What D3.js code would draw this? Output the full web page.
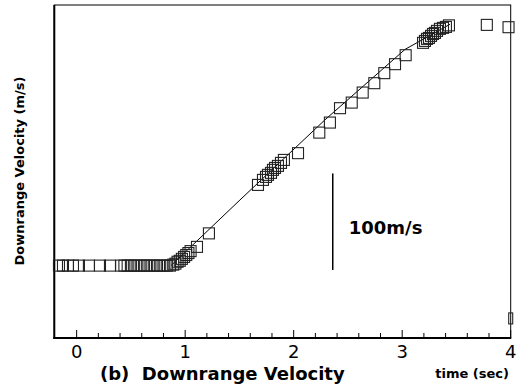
<!DOCTYPE html>
<html>
<head>
<meta charset="utf-8">
<script src="https://cdn.jsdelivr.net/npm/d3@7"></script>
<style>
  body { margin: 0; background: #fff; }
  svg { display: block; font-family: "DejaVu Sans", sans-serif; }
</style>
</head>
<body>
<svg id="chart" width="519" height="389"></svg>
<script>
// measured samples (time in s, downrange velocity in m/s, 0 = pre-launch level)
const timeSec = [
  -0.163, -0.126, -0.08, -0.034, 0.021, 0.113, 0.215, 0.307,
  0.41, 0.44, 0.47, 0.50, 0.53, 0.56, 0.59, 0.62, 0.65, 0.68, 0.71, 0.74, 0.77, 0.80, 0.83, 0.86,
  0.89, 0.91, 0.93, 0.95, 0.97, 0.99, 1.01, 1.03, 1.05, 1.109, 1.219,
  1.671, 1.717, 1.745, 1.763, 1.791, 1.809, 1.828, 1.855, 1.883, 1.91,
  2.04, 2.236, 2.334, 2.427, 2.535, 2.636, 2.743, 2.835, 2.934, 3.032,
  3.192, 3.21, 3.229, 3.247, 3.266, 3.284, 3.302, 3.321, 3.348, 3.376, 3.403, 3.431,
  3.78, 3.98
];
const velocity = [
  0, 0, 0, 0, 0, 0, 0, 0,
  0, 0, 0, 0, 0, 0, 0, 0, 0, 0, 0, 0, 0, 0, 0, 0,
  1, 2, 4, 5, 7, 9, 11, 13, 15, 19.4, 33.4,
  83.6, 88.8, 91.9, 94, 96.1, 99.2, 101.2, 103.3, 106.4, 109.5,
  116.5, 137.8, 148.2, 163.1, 168.9, 179.3, 189, 199.4, 208.7, 218,
  230.8, 232.8, 234.9, 235.9, 238, 240, 241.1, 243.2, 245.3, 246.3, 247.3, 248.9,
  249.4, 247
];
// stray point at the right edge
const outlierT = [4.0];
const outlierV = [-54.7];

// fitted curve
const fitT = [0.87, 1.505, 2.288, 3.026, 3.44];
const fitV = [0, 68, 151, 224, 250];

const xTicks = [0, 1, 2, 3, 4];
const xMinorStep = 0.2;
const scaleBar = { t: 2.36, from: -4.5, len: 100, label: "100m/s" };

const svg = d3.select("#chart");
const mLeft = 54.3, mRight = 510.7, mTop = 5, mBottom = 338;

const x = d3.scaleLinear().domain([-0.206, 4]).range([mLeft, mRight]);
const y = d3.scaleLinear().domain([-75, 270]).range([mBottom, mTop]);

// frame
svg.append("rect")
  .attr("x", mLeft).attr("y", mTop)
  .attr("width", mRight - mLeft).attr("height", mBottom - mTop)
  .attr("fill", "none").attr("stroke", "#000").attr("stroke-width", 1);
svg.append("line")
  .attr("x1", mLeft).attr("x2", mLeft).attr("y1", mTop).attr("y2", mBottom + 1)
  .attr("stroke", "#000").attr("stroke-width", 2);
svg.append("line")
  .attr("x1", mLeft - 1).attr("x2", mRight + 0.5).attr("y1", mBottom).attr("y2", mBottom)
  .attr("stroke", "#000").attr("stroke-width", 2);

// ticks pointing inward
const minor = d3.range(0, 4.0001, xMinorStep).map(d => +d.toFixed(1));
svg.selectAll(".tick")
  .data(minor)
  .enter().append("line")
  .attr("x1", d => x(d)).attr("x2", d => x(d))
  .attr("y1", mBottom)
  .attr("y2", d => mBottom - (Math.abs(d - Math.round(d)) < 1e-6 ? 8 : 5))
  .attr("stroke", "#000").attr("stroke-width", 1);

svg.selectAll(".tlabel")
  .data(xTicks)
  .enter().append("text")
  .attr("x", d => x(d)).attr("y", 358)
  .attr("text-anchor", "middle")
  .attr("font-size", 18)
  .text(d => d);

// fit line
const fitLine = d3.line()
  .x(d => x(d[0]))
  .y(d => y(d[1]));
svg.append("path")
  .datum(fitT.map((t, i) => [t, fitV[i]]))
  .attr("d", fitLine)
  .attr("fill", "none").attr("stroke", "#000").attr("stroke-width", 1);

// squares
const s = 11;
svg.selectAll(".pt")
  .data(timeSec.map((t, i) => [t, velocity[i]]))
  .enter().append("rect")
  .attr("x", d => x(d[0]) - s / 2)
  .attr("y", d => y(d[1]) - s / 2)
  .attr("width", s).attr("height", s)
  .attr("fill", "none").attr("stroke", "#222").attr("stroke-width", 1.1);

svg.selectAll(".out")
  .data(outlierT.map((t, i) => [t, outlierV[i]]))
  .enter().append("rect")
  .attr("x", d => x(d[0]) - 2)
  .attr("y", d => y(d[1]) - s / 2)
  .attr("width", 4).attr("height", s)
  .attr("fill", "none").attr("stroke", "#222").attr("stroke-width", 1.1);

// scale bar
svg.append("line")
  .attr("x1", x(scaleBar.t)).attr("x2", x(scaleBar.t))
  .attr("y1", y(scaleBar.from)).attr("y2", y(scaleBar.from + scaleBar.len))
  .attr("stroke", "#000").attr("stroke-width", 1.5);
svg.append("text")
  .attr("x", x(scaleBar.t) + 16)
  .attr("y", y(scaleBar.from + scaleBar.len / 2) + 12)
  .attr("font-size", 18).attr("font-weight", "bold")
  .text(scaleBar.label);

// titles
svg.append("text")
  .attr("x", 100).attr("y", 380)
  .attr("font-size", 18).attr("font-weight", "bold")
  .style("white-space", "pre")
  .text("(b)  Downrange Velocity");
svg.append("text")
  .attr("x", 509).attr("y", 378)
  .attr("text-anchor", "end")
  .attr("font-size", 13).attr("font-weight", "bold")
  .text("time (sec)");
svg.append("text")
  .attr("transform", "translate(24,171) rotate(-90)")
  .attr("text-anchor", "middle")
  .attr("font-size", 13).attr("font-weight", "bold")
  .text("Downrange Velocity (m/s)");
</script>
</body>
</html>
